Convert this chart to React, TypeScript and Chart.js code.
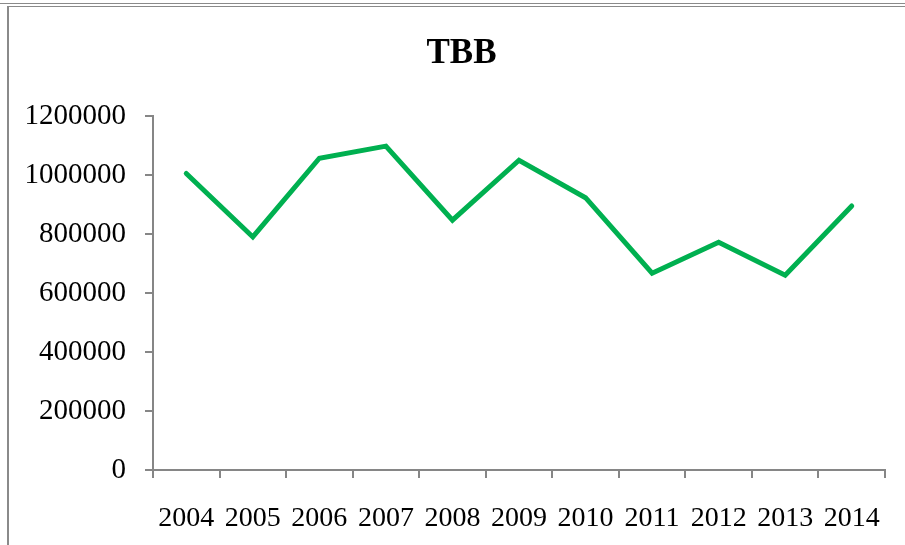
import React, { useEffect, useRef } from "react";
import { Chart, registerables } from "chart.js";

Chart.register(...registerables);

const categories = ["2004", "2005", "2006", "2007", "2008", "2009", "2010", "2011", "2012", "2013", "2014"];
const tbbValues = [1005000, 790000, 1057000, 1098000, 847000, 1050000, 923000, 667000, 772000, 660000, 895000];
const yTicks = [0, 200000, 400000, 600000, 800000, 1000000, 1200000];
const chartTitle = "TBB";

export default function App() {
  const ref = useRef<HTMLCanvasElement | null>(null);

  useEffect(() => {
    if (!ref.current) return;
    const axisColor = "#868686";
    const serif = "'Liberation Serif', 'Times New Roman', serif";
    const chart = new Chart(ref.current, {
      type: "line",
      data: {
        labels: categories,
        datasets: [
          {
            label: chartTitle,
            data: tbbValues,
            borderColor: "#00B050",
            backgroundColor: "#00B050",
            borderWidth: 5,
            pointRadius: 0,
            tension: 0,
            borderCapStyle: "round",
            borderJoinStyle: "miter",
            yAxisID: "y",
          },
        ],
      },
      options: {
        responsive: false,
        animation: false,
        layout: { padding: 0 },
        plugins: {
          legend: { display: false },
          tooltip: { enabled: false },
          title: {
            display: true,
            text: chartTitle,
            color: "#000",
            font: { family: serif, size: 35, weight: "bold" },
            padding: { top: 33, bottom: 41 },
          },
        },
        scales: {
          x: {
            type: "category",
            offset: true,
            grid: {
              offset: true,
              drawOnChartArea: false,
              drawTicks: true,
              tickLength: 8,
              color: axisColor,
              lineWidth: 2,
            },
            border: { display: true, color: axisColor, width: 2 },
            ticks: {
              color: "#000",
              font: { family: serif, size: 28 },
              padding: 24,
              maxRotation: 0,
              autoSkip: false,
            },
            afterFit: (scale: any) => {
              scale.height = 75;
            },
          },
          y: {
            position: "left",
            min: 0,
            max: 1200000,
            afterBuildTicks: (scale: any) => {
              scale.ticks = yTicks.map((v) => ({ value: v }));
            },
            grid: {
              drawOnChartArea: false,
              drawTicks: true,
              tickLength: 8,
              color: axisColor,
              lineWidth: 2,
            },
            border: { display: true, color: axisColor, width: 2 },
            ticks: {
              color: "#000",
              font: { family: serif, size: 29 },
              padding: 19,
              callback: (v: any) => String(v),
            },
            afterFit: (scale: any) => {
              scale.width = 153;
            },
          },
          ySpacer: {
            position: "right",
            display: true,
            min: 0,
            max: 1200000,
            grid: { display: false, drawTicks: false },
            border: { display: false },
            ticks: { display: false },
            afterFit: (scale: any) => {
              scale.width = 38;
            },
          },
        },
      },
    });
    return () => chart.destroy();
  }, []);

  return (
    <div style={{ position: "fixed", left: 0, top: 0, width: 905, height: 545, background: "#fff", overflow: "hidden" }}>
      <div style={{ position: "absolute", left: 0, top: 3, width: 905, height: 1, background: "#8a8a8a" }} />
      <div style={{ position: "absolute", left: 7, top: 6, width: 898, height: 1, background: "#8a8a8a" }} />
      <div style={{ position: "absolute", left: 7, top: 6, width: 2, height: 539, background: "#8a8a8a" }} />
      <canvas ref={ref} width={923} height={545} style={{ position: "absolute", left: 0, top: 0 }} />
    </div>
  );
}
